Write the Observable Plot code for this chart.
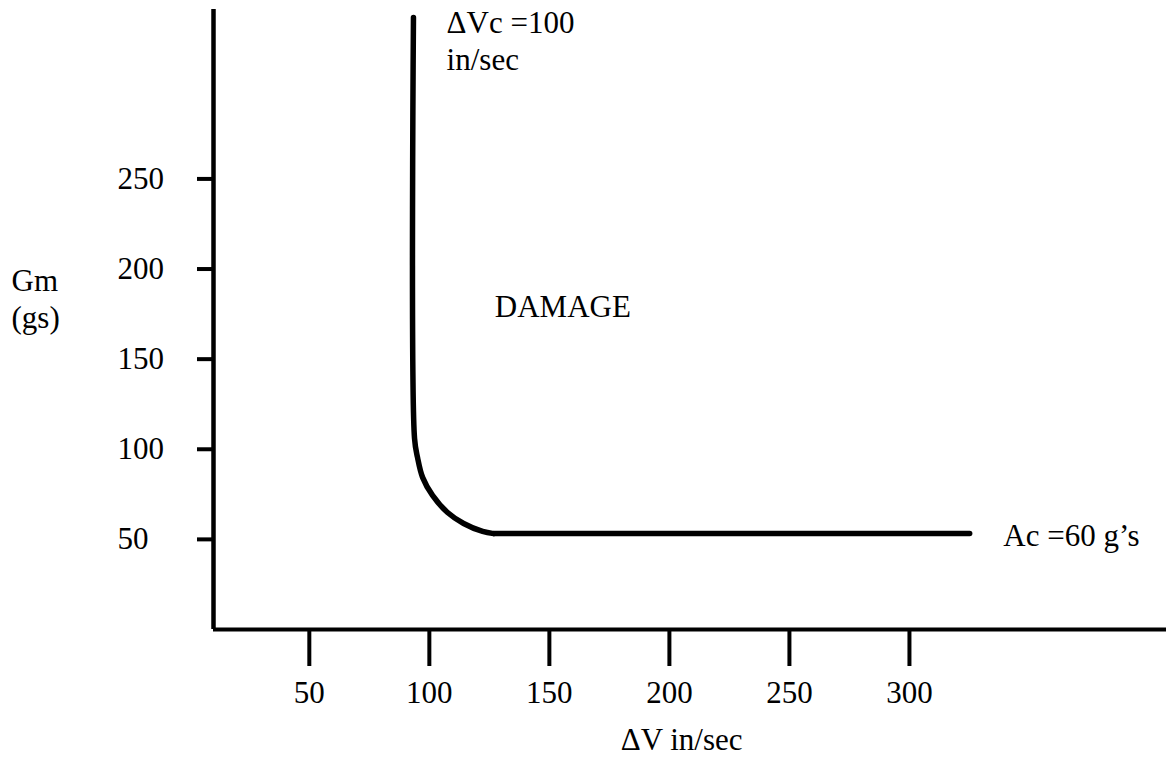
<!DOCTYPE html>
<html>
<head>
<meta charset="utf-8">
<script src="https://cdn.jsdelivr.net/npm/d3@7"></script>
<script src="https://cdn.jsdelivr.net/npm/@observablehq/plot@0.6"></script>
<style>
  html, body { margin: 0; padding: 0; background: #fff; }
  svg, svg text { font-family: "Liberation Serif", "Times New Roman", serif !important; }
</style>
</head>
<body>
<div id="chart"></div>
<script>
// Tick values
const xTicks = [50, 100, 150, 200, 250, 300];
const yTicks = [50, 100, 150, 200, 250];

// Damage boundary curve (ΔV in/sec, Gm in gs)
const arcDV = [91.3, 91.75, 93.0, 95.1, 99.25, 105.5, 112.2, 120.1, 124.7];
const arcGm = [339.6, 106.0, 95.4, 84.4, 74.4, 64.9, 58.8, 54.4, 53.2];
const flatDV = [124.7, 323];
const flatGm = [53.2, 53.2];

// Annotations
const annoText = ["\u0394Vc =100\nin/sec", "DAMAGE", "Ac =60 g\u2019s"];
const annoDV = [105.1, 125.2, 337.0];
const annoGm = [345.5, 179, 51.6];
const annoAnchor = ["top", "middle", "middle"];

const xLabel = "\u0394V in/sec";
const yLabel = "Gm\n(gs)";

const arc = arcDV.map((v, i) => ({dv: v, gm: arcGm[i]}));
const flat = flatDV.map((v, i) => ({dv: v, gm: flatGm[i]}));
const annos = annoText.map((t, i) => ({t, dv: annoDV[i], gm: annoGm[i], la: annoAnchor[i]}));

const font = "Liberation Serif";
const fs = 31;

const chart = Plot.plot({
  width: 1166,
  height: 759,
  marginLeft: 213,
  marginRight: 0,
  marginTop: 9,
  marginBottom: 130,
  style: {fontFamily: font, fontSize: fs + "px", color: "#000", background: "#fff"},
  x: {domain: [8, 405]},
  y: {domain: [0, 344]},
  marks: [
    Plot.axisX({ticks: xTicks, tickSize: 37, tickPadding: 14, strokeWidth: 4, label: null, tickFormat: d => String(d), dx: -5, fontSize: fs, fontFamily: font}),
    Plot.axisY({ticks: yTicks, tickSize: 16, strokeWidth: 4, label: null, tickFormat: () => ""}),
    Plot.axisY({ticks: yTicks, tickSize: 0, tickPadding: 19, label: null, tickFormat: d => String(d), textAnchor: "start", dx: -77, fontSize: fs, fontFamily: font}),
    Plot.ruleX([8], {strokeWidth: 4.5, stroke: "#000"}),
    Plot.ruleY([0], {strokeWidth: 4, stroke: "#000"}),
    Plot.line(arc, {x: "dv", y: "gm", curve: "catmull-rom", stroke: "#000", strokeWidth: 5.5}),
    Plot.line(flat, {x: "dv", y: "gm", stroke: "#000", strokeWidth: 5.5}),
    Plot.text(annos.filter(d => d.la === "top"), {x: "dv", y: "gm", text: "t", textAnchor: "start", lineAnchor: "top", lineHeight: 1.2, fontSize: fs, fontFamily: font, clip: false}),
    Plot.text(annos.filter(d => d.la === "middle"), {x: "dv", y: "gm", text: "t", textAnchor: "start", fontSize: fs, fontFamily: font}),
    Plot.text([yLabel], {frameAnchor: "left", y: [202], text: d => d, textAnchor: "start", lineAnchor: "top", lineHeight: 1.18, dx: -202, fontSize: fs, fontFamily: font}),
    Plot.text([xLabel], {frameAnchor: "bottom", x: [203], text: d => d, textAnchor: "middle", lineAnchor: "top", dy: 98, fontSize: fs, fontFamily: font})
  ]
});

document.getElementById("chart").appendChild(chart);
</script>
</body>
</html>
